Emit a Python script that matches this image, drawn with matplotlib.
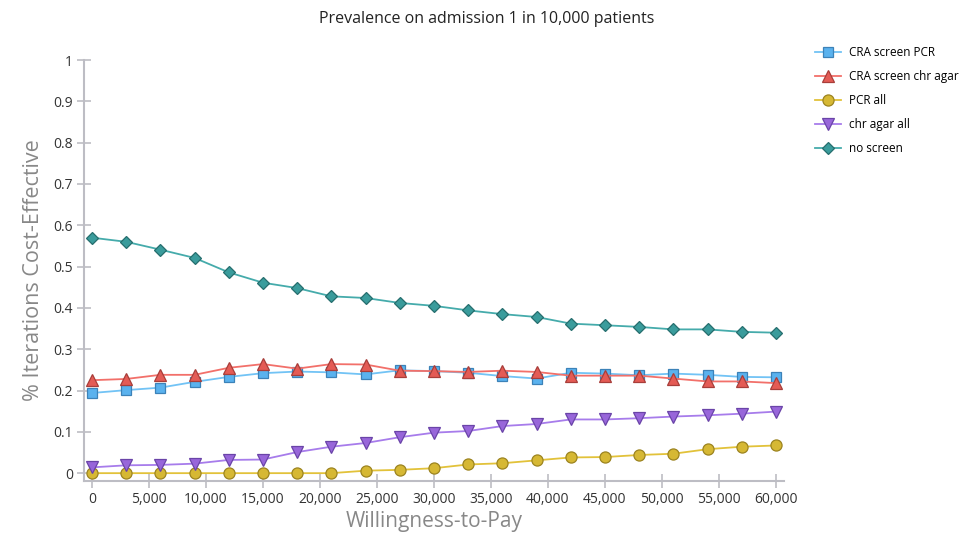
import matplotlib.pyplot as plt
from matplotlib.ticker import FuncFormatter

plt.rcParams['font.family'] = ['Open Sans', 'DejaVu Sans']

# willingness-to-pay steps
wtp = list(range(0, 60001, 3000))

cra_pcr = [0.194, 0.201, 0.207, 0.221, 0.233, 0.242, 0.246, 0.244, 0.239, 0.249, 0.247,
           0.243, 0.235, 0.229, 0.243, 0.241, 0.237, 0.241, 0.238, 0.233, 0.232]
cra_agar = [0.225, 0.228, 0.238, 0.238, 0.255, 0.264, 0.253, 0.264, 0.263, 0.248, 0.247,
            0.245, 0.248, 0.245, 0.236, 0.236, 0.236, 0.229, 0.222, 0.222, 0.218]
pcr_all = [0.0, 0.0, 0.0, 0.0, 0.0, 0.0, 0.0, 0.0, 0.006, 0.008, 0.012,
           0.021, 0.024, 0.031, 0.038, 0.039, 0.044, 0.047, 0.058, 0.064, 0.067]
agar_all = [0.014, 0.019, 0.020, 0.023, 0.032, 0.033, 0.051, 0.064, 0.073, 0.087, 0.098,
            0.102, 0.114, 0.119, 0.130, 0.130, 0.133, 0.137, 0.140, 0.144, 0.149]
no_screen = [0.570, 0.560, 0.541, 0.521, 0.486, 0.461, 0.448, 0.428, 0.424, 0.412, 0.405,
             0.394, 0.385, 0.378, 0.362, 0.358, 0.354, 0.348, 0.348, 0.342, 0.340]

y_ticks = [0, 0.1, 0.2, 0.3, 0.4, 0.5, 0.6, 0.7, 0.8, 0.9, 1]
x_ticks = list(range(0, 60001, 5000))

series = [
    ('CRA screen PCR', cra_pcr, 's', '#72C3F5', '#5AB2EE', '#3C82B8', 7.5),
    ('CRA screen chr agar', cra_agar, '^', '#F2706A', '#E45B55', '#A83E3A', 8.5),
    ('PCR all', pcr_all, 'o', '#E2C23A', '#D6B834', '#9C8420', 8),
    ('chr agar all', agar_all, 'v', '#A77CEB', '#9866DA', '#6A44A8', 8.5),
    ('no screen', no_screen, 'D', '#45ABAB', '#3A9C9C', '#266E6E', 6.5),
]

fig = plt.figure(figsize=(9.73, 5.36), dpi=100)
ax = fig.add_axes([0.0863, 0.1026, 0.7194, 0.7854])

for label, vals, mk, lc, fc, ec, ms in series:
    ax.plot(wtp, vals, color=lc, lw=1.3, marker=mk, markersize=ms,
            markerfacecolor=fc, markeredgecolor=ec, markeredgewidth=0.9, label=label)

ax.set_xlim(-702, 60702)
ax.set_ylim(-0.019, 1.0)
ax.set_xticks(x_ticks)
ax.set_yticks(y_ticks)
ax.xaxis.set_major_formatter(FuncFormatter(lambda v, p: f'{int(v):,}'))
ax.yaxis.set_major_formatter(FuncFormatter(lambda v, p: '0' if v == 0 else ('1' if v == 1 else f'{v:g}')))

for s in ['top', 'right']:
    ax.spines[s].set_visible(False)
for s in ['left', 'bottom']:
    ax.spines[s].set_color('#BDBDC4')
    ax.spines[s].set_linewidth(1.5)
ax.tick_params(direction='inout', length=10, width=1.2, color='#BDBDC4',
               labelsize=10, labelcolor='#333333', pad=3)

ax.set_xlabel('Willingness-to-Pay', fontsize=15, color='#888888', labelpad=3)
ax.set_ylabel('% Iterations Cost-Effective', fontsize=15.5, color='#888888', labelpad=7)
fig.text(0.5, 0.965, 'Prevalence on admission 1 in 10,000 patients', ha='center', va='center',
         fontsize=11.5, color='#222222')

ax.legend(loc='upper left', bbox_to_anchor=(1.037, 1.045), frameon=False, fontsize=8.5,
          handlelength=2.2, labelspacing=0.93, borderaxespad=0, handletextpad=0.7)

fig.savefig('out.png', dpi=100)
